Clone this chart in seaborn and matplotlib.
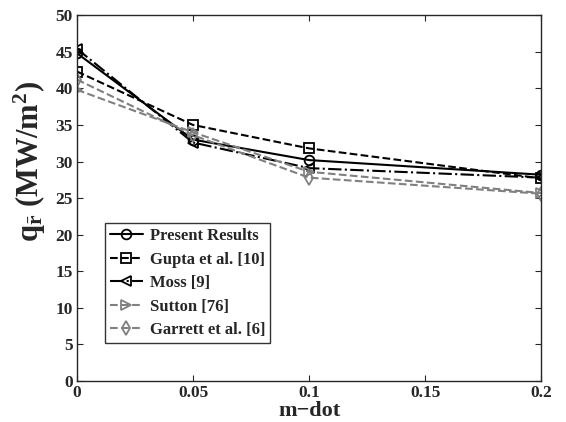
import pandas as pd
import numpy as np
import matplotlib
matplotlib.use("Agg")
import matplotlib.pyplot as plt
import seaborn as sns

mdot = [0, 0.05, 0.1, 0.2]
present = [44.8, 33.0, 30.2, 28.2]
gupta = [42.3, 35.0, 31.8, 27.7]
moss = [45.4, 32.6, 29.1, 27.8]
sutton = [39.8, 34.0, 28.6, 25.7]
garrett = [41.2, 33.6, 27.8, 25.6]

labels = ["Present Results", "Gupta et al. [10]", "Moss [9]", "Sutton [76]", "Garrett et al. [6]"]
series = [present, gupta, moss, sutton, garrett]

sns.set_style("ticks")
plt.rcParams["font.family"] = ["Liberation Serif", "DejaVu Serif"]
plt.rcParams["font.weight"] = "bold"
plt.rcParams["mathtext.fontset"] = "custom"
plt.rcParams["mathtext.rm"] = "Liberation Serif:bold"
plt.rcParams["mathtext.it"] = "Liberation Serif:bold"
plt.rcParams["mathtext.bf"] = "Liberation Serif:bold"

colours = ["black", "black", "black", "#808080", "#808080"]
markers = ["o", "s", "<", ">", "d"]
styles = ["-", "--", "-.", "--", "--"]

fig = plt.figure(figsize=(5.66, 4.22), dpi=100)
ax = fig.add_axes([0.136, 0.097, 0.82, 0.867])

for lab, vals, c, m, ls in zip(labels, series, colours, markers, styles):
    df = pd.DataFrame({"m-dot": mdot, "q": vals})
    sns.lineplot(x="m-dot", y="q", data=df, ax=ax, color=c, marker=m, linestyle=ls,
                 linewidth=1.5, markersize=7, markerfacecolor="none",
                 markeredgecolor=c, markeredgewidth=1.3, label=lab)

ax.set_xlim(0, 0.2)
ax.set_ylim(0, 50)
ax.set_xticks([0, 0.05, 0.1, 0.15, 0.2])
ax.set_xticklabels(["0", "0.05", "0.1", "0.15", "0.2"])
ax.set_yticks(range(0, 51, 5))
ax.tick_params(direction="in", top=True, right=True, labelsize=12.5, length=4, pad=3)
for s in ax.spines.values():
    s.set_visible(True)
    s.set_linewidth(1.0)
for t in ax.get_xticklabels() + ax.get_yticklabels():
    t.set_fontweight("bold")

ax.set_xlabel("m\u2212dot", fontsize=16, fontweight="bold", labelpad=0)
ax.set_ylabel(r"$\mathrm{q_{\bar{r}}}$ (MW/m$^2$)", fontsize=22, fontweight="bold")
ax.yaxis.set_label_coords(-0.062, 0.6)

leg = ax.legend(loc="lower left", bbox_to_anchor=(0.06, 0.104), borderaxespad=0,
                fontsize=12, frameon=True, fancybox=False, edgecolor="black",
                handlelength=2.0, borderpad=0.3, labelspacing=0.45, handletextpad=0.4)
leg.get_frame().set_linewidth(1.0)
for t in leg.get_texts():
    t.set_fontweight("bold")

plt.savefig("out.png", dpi=100)
